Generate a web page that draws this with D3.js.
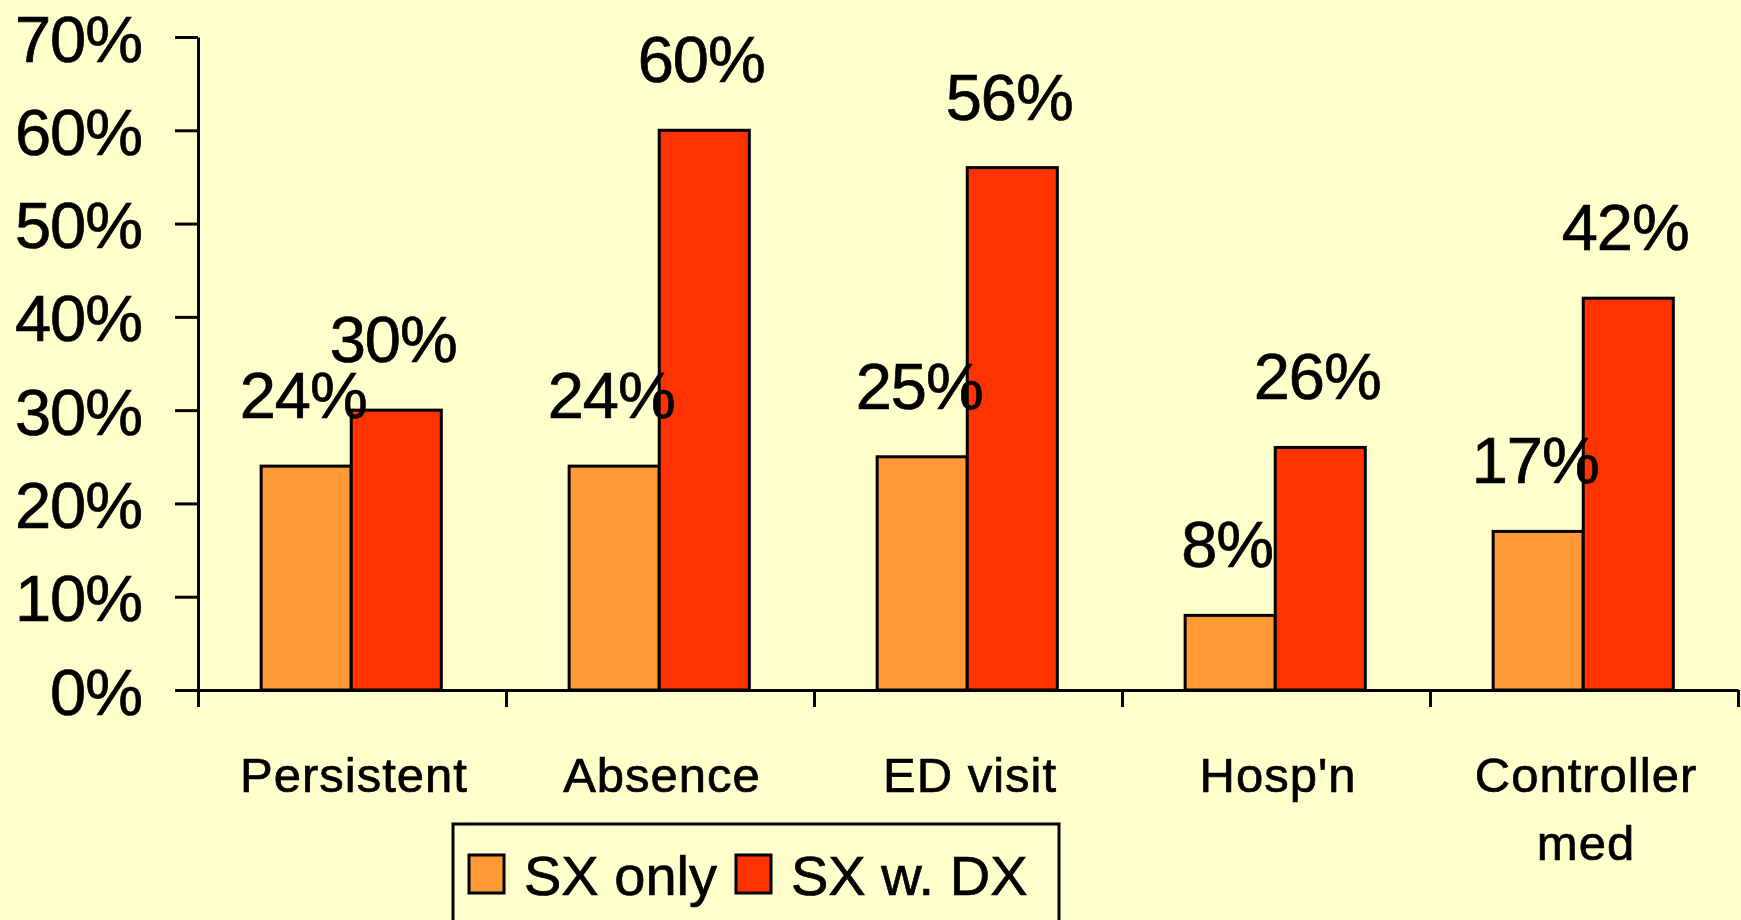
<!DOCTYPE html>
<html>
<head>
<meta charset="utf-8">
<script src="https://cdn.jsdelivr.net/npm/d3@7"></script>
<style>
  html, body { margin: 0; padding: 0; background: #ffffcc; }
  svg { display: block; font-family: "Liberation Sans", Arial, sans-serif; }
  .axis path, .axis line { stroke: #000; stroke-width: 3; }
  text { stroke: #000; stroke-width: 0.7; }
</style>
</head>
<body>
<svg id="chart"></svg>
<script>
var categories = [["Persistent"], ["Absence"], ["ED visit"], ["Hosp'n"], ["Controller", "med"]];
var seriesNames = ["SX only", "SX w. DX"];
var sxOnly = [0.24, 0.24, 0.25, 0.08, 0.17];
var sxWithDx = [0.30, 0.60, 0.56, 0.26, 0.42];
var yTicks = [0, 0.1, 0.2, 0.3, 0.4, 0.5, 0.6, 0.7];
var colors = ["#ff9933", "#ff3300"];

var width = 1741,
    height = 920;

var svg = d3.select("#chart")
    .attr("width", width)
    .attr("height", height);

var plotLeft = 198, plotRight = 1738, plotTop = 37, plotBottom = 690;

var y = d3.scaleLinear()
    .domain([0, 0.7])
    .range([plotBottom, plotTop]);

var x = d3.scaleBand()
    .domain(d3.range(categories.length))
    .range([plotLeft, plotRight])
    .padding(0);

var xs = d3.scaleBand()
    .domain(d3.range(seriesNames.length))
    .range([x.bandwidth() * 0.205, x.bandwidth() * 0.79])
    .padding(0);

// y axis
svg.append("g")
    .attr("class", "axis")
    .attr("transform", "translate(" + plotLeft + ",0)")
    .call(d3.axisLeft(y).tickValues(yTicks).tickSize(23).tickSizeOuter(0).tickFormat(d3.format(".0%")))
    .call(function (g) {
        g.selectAll("text")
            .attr("x", -56)
            .attr("dy", "0.37em")
            .attr("font-size", 65)
            .attr("letter-spacing", -1)
            .attr("font-family", "Liberation Sans, Arial, sans-serif")
            .attr("fill", "#000");
    });

// x axis: ticks at category boundaries
var xb = d3.scaleLinear().domain([0, categories.length]).range([plotLeft, plotRight]);
svg.append("g")
    .attr("class", "axis")
    .attr("transform", "translate(0," + plotBottom + ")")
    .call(d3.axisBottom(xb).ticks(categories.length).tickSize(17).tickSizeOuter(0).tickFormat(""));

// bars
var data = categories.map(function (c, i) { return [sxOnly[i], sxWithDx[i]]; });

var groups = svg.selectAll(".cat")
    .data(data)
    .enter()
    .append("g")
    .attr("class", "cat")
    .attr("transform", function (d, i) { return "translate(" + x(i) + ",0)"; });

groups.selectAll("rect")
    .data(function (d) { return d; })
    .enter()
    .append("rect")
    .attr("x", function (d, j) { return xs(j); })
    .attr("y", function (d) { return y(d); })
    .attr("width", xs.bandwidth())
    .attr("height", function (d) { return plotBottom - y(d); })
    .attr("fill", function (d, j) { return colors[j]; })
    .attr("stroke", "#000")
    .attr("stroke-width", 3);

groups.selectAll(".val")
    .data(function (d) { return d; })
    .enter()
    .append("text")
    .attr("class", "val")
    .attr("x", function (d, j) { return xs(j) + xs.bandwidth() / 2 - 3; })
    .attr("y", function (d) { return y(d) - 48; })
    .attr("text-anchor", "middle")
    .attr("font-size", 65)
    .attr("letter-spacing", -1)
    .text(function (d) { return Math.round(d * 100) + "%"; });

// category labels
var catLabels = svg.selectAll(".catlabel")
    .data(categories)
    .enter()
    .append("text")
    .attr("class", "catlabel")
    .attr("text-anchor", "middle")
    .attr("font-size", 49)
    .attr("stroke-width", 1.1)
    .attr("letter-spacing", 1);

catLabels.selectAll("tspan")
    .data(function (d, i) { return d.map(function (t) { return { t: t, i: i }; }); })
    .enter()
    .append("tspan")
    .attr("x", function (d) { return x(d.i) + x.bandwidth() / 2 + 2; })
    .attr("y", function (d, k) { return 792 + k * 68; })
    .text(function (d) { return d.t; });

// legend
var legend = svg.append("g");
legend.append("rect")
    .attr("x", 453).attr("y", 824)
    .attr("width", 606).attr("height", 120)
    .attr("fill", "none")
    .attr("stroke", "#000")
    .attr("stroke-width", 3);

var legendX = [469, 736];
seriesNames.forEach(function (name, j) {
    legend.append("rect")
        .attr("x", legendX[j]).attr("y", 855)
        .attr("width", 35).attr("height", 38)
        .attr("fill", colors[j])
        .attr("stroke", "#000")
        .attr("stroke-width", 3);
    legend.append("text")
        .attr("x", legendX[j] + 55)
        .attr("y", 895)
        .attr("font-size", 56)
        .text(name);
});
</script>
</body>
</html>
